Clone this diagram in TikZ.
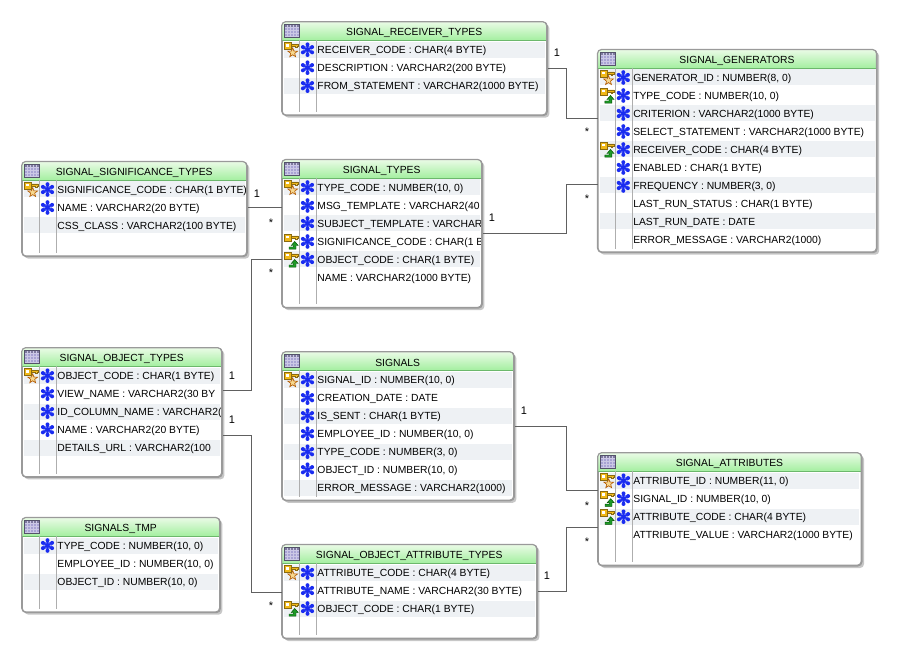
\documentclass[tikz,border=0pt]{standalone}
\usepackage{fontspec}
\setmainfont{Liberation Sans}
\usepackage{xcolor}
\usetikzlibrary{calc,shadows}
\definecolor{edge}{HTML}{9A9A9A}
\definecolor{wire}{HTML}{606060}
\definecolor{band}{HTML}{EEF1F4}
\definecolor{hdtop}{HTML}{EAFBE6}
\definecolor{hdbot}{HTML}{A4EFA0}
\definecolor{grid}{HTML}{A8A3D4}
\definecolor{gold}{HTML}{F0B818}
\definecolor{golddark}{HTML}{8A6A10}
\definecolor{starfill}{HTML}{F7D890}
\definecolor{fkgreen}{HTML}{1E9A28}
\definecolor{snow}{HTML}{1A2CF0}
\tikzset{
  tbl/.style={draw=edge, fill=white, line width=0.9pt, rounded corners=3pt, inner sep=0pt, anchor=north west,
    drop shadow={shadow xshift=1.6pt, shadow yshift=-1.6pt, fill=black, opacity=0.22}},
  conn/.style={draw=wire, line width=0.8pt},
  lbl/.style={text=black, font=\fontsize{8.25}{10}\selectfont, inner sep=0pt},
  rowtxt/.style={lbl, font=\fontsize{7.75}{10}\selectfont, anchor=base west},
  titletxt/.style={lbl, font=\fontsize{7.75}{10}\selectfont},
  colline/.style={draw=edge!80, line width=0.7pt},
  keyN/.pic={},
  keyP/.pic={
    \filldraw[fill=starfill, draw=orange!70!black, line width=0.45pt] (1.5,-1.5) -- (2.7,1.8) -- (6.3,2) -- (3.5,4.15) -- (4.4,7.5) -- (1.5,5.6) -- (-1.4,7.5) -- (-0.5,4.15) -- (-3.3,2) -- (0.3,1.8) -- cycle;
    \pic {keyhead};
  },
  keyF/.pic={
    \fill[fkgreen, draw=green!30!black, line width=0.35pt] (3.5,0.5) -- (7,4.5) -- (4.8,4.5) -- (4.8,8.2) -- (-2.2,8.2) -- (-2.2,6) -- (2.2,6) -- (2.2,4.5) -- (0,4.5) -- cycle;
    \pic {keyhead};
  },
  keyhead/.pic={
    \fill[gold, draw=golddark, line width=0.4pt] (-7,-7) rectangle (0,0);
    \fill[white] (-5,-5) rectangle (-2.5,-2.5);
    \fill[gold, draw=golddark, line width=0.3pt] (0,-5) -- (7,-5) -- (7,-3) -- (5.5,-3) -- (5.5,-1.5) -- (3.8,-1.5) -- (3.8,-3) -- (0,-3) -- cycle;
  },
  ast0/.pic={},
  ast1/.pic={
    \foreach \ang in {30,90,150}
      \draw[snow, line width=1.7pt] (\ang:5.5) -- (\ang+180:5.5);
    \foreach \ang in {30,90,...,330}
      \fill[snow] (\ang:5.3) circle (2);
    \fill[snow] (0,0) circle (4);
    \foreach \ang in {0,60,...,300}
      \fill[white!55!snow] (\ang:3) circle (0.8);
  },
  grid/.pic={
    \fill[grid] (0,0) rectangle (15,13.5);
    \fill[grid!75!black] (0,0) rectangle (15,3);
    \foreach \gx in {3,6,...,12}
      \draw[white!40!grid, line width=0.35pt] (\gx,0) -- (\gx,13.5);
    \foreach \gy in {3,6,...,12}
      \draw[white!40!grid, line width=0.35pt] (0,\gy) -- (15,\gy);
    \draw[black!50!grid, line width=0.5pt] (0,0) rectangle (15,13.5);
  }
}
% name, left, top, width, height, title, rows
\newcommand{\dbtable}[7]{
  \node[tbl, minimum width=#4*0.75pt, minimum height=#5*0.75pt] (#1) at (#2,#3) {};
  \begin{scope}[shift={(#2,#3)}]
    \begin{scope}
      \clip[rounded corners=3pt] (0,0) rectangle (#4,#5);
      \shade[top color=hdtop, bottom color=hdbot] (0,0) rectangle (#4,18.5);
      \foreach \kk/\ak/\txt [count=\i] in {#7} {
        \pgfmathsetmacro{\yy}{10+18*\i}
        \ifodd\i
          \fill[band] (2,\yy-8) rectangle (#4-2,\yy+8);
        \fi
        \pic at (9.5,\yy-0.5) {key\kk};
        \pic at (25.8,\yy) {ast\ak};
        \node[rowtxt] (#1-\i) at (35.5,\yy+4.1) {\txt};
      }
    \end{scope}
    \draw[edge!70!green, line width=0.7pt] (0,18.5) -- (#4,18.5);
    \draw[colline] (17.5,18.5) -- (17.5,#5-3);
    \draw[colline] (35,18.5) -- (35,#5-3);
    \pic at (2.5,2.5) {grid};
    \node[titletxt] (#1-title) at (#4/2,11) {#6};
    \draw[draw=edge, line width=0.9pt, rounded corners=3pt] (0,0) rectangle (#4,#5);
  \end{scope}
}

\begin{document}
\begin{tikzpicture}[x=0.75pt, y=-0.75pt]
  \useasboundingbox (0,0) rectangle (897,659);

  \dbtable{receiver}{281.7}{21.7}{265}{93.3}{SIGNAL\_RECEIVER\_TYPES}{
    P/1/RECEIVER\_CODE : CHAR(4 BYTE),
    N/1/DESCRIPTION : VARCHAR2(200 BYTE),
    N/1/FROM\_STATEMENT : VARCHAR2(1000 BYTE)}
  \dbtable{generators}{597.5}{49.5}{279}{202.5}{SIGNAL\_GENERATORS}{
    P/1/{GENERATOR\_ID : NUMBER(8, 0)},
    F/1/{TYPE\_CODE : NUMBER(10, 0)},
    N/1/CRITERION : VARCHAR2(1000 BYTE),
    N/1/SELECT\_STATEMENT : VARCHAR2(1000 BYTE),
    F/1/RECEIVER\_CODE : CHAR(4 BYTE),
    N/1/ENABLED : CHAR(1 BYTE),
    N/1/{FREQUENCY : NUMBER(3, 0)},
    N/0/LAST\_RUN\_STATUS : CHAR(1 BYTE),
    N/0/LAST\_RUN\_DATE : DATE,
    N/0/ERROR\_MESSAGE : VARCHAR2(1000)}
  \dbtable{significance}{21.7}{161.5}{225}{94.5}{SIGNAL\_SIGNIFICANCE\_TYPES}{
    P/1/SIGNIFICANCE\_CODE : CHAR(1 BYTE),
    N/1/NAME : VARCHAR2(20 BYTE),
    N/0/CSS\_CLASS : VARCHAR2(100 BYTE)}
  \dbtable{types}{281.7}{159.5}{200}{148}{SIGNAL\_TYPES}{
    P/1/{TYPE\_CODE : NUMBER(10, 0)},
    N/1/MSG\_TEMPLATE : VARCHAR2(40,
    N/1/SUBJECT\_TEMPLATE : VARCHAR,
    F/1/SIGNIFICANCE\_CODE : CHAR(1 B,
    F/1/OBJECT\_CODE : CHAR(1 BYTE),
    N/0/NAME : VARCHAR2(1000 BYTE)}
  \dbtable{objtypes}{21.7}{347.7}{200}{129}{SIGNAL\_OBJECT\_TYPES}{
    P/1/OBJECT\_CODE : CHAR(1 BYTE),
    N/1/VIEW\_NAME : VARCHAR2(30 BY,
    N/1/ID\_COLUMN\_NAME : VARCHAR2(,
    N/1/NAME : VARCHAR2(20 BYTE),
    N/0/DETAILS\_URL : VARCHAR2(100}
  \dbtable{signals}{281.7}{351.7}{232}{148.5}{SIGNALS}{
    P/1/{SIGNAL\_ID : NUMBER(10, 0)},
    N/1/CREATION\_DATE : DATE,
    N/1/IS\_SENT : CHAR(1 BYTE),
    N/1/{EMPLOYEE\_ID : NUMBER(10, 0)},
    N/1/{TYPE\_CODE : NUMBER(3, 0)},
    N/1/{OBJECT\_ID : NUMBER(10, 0)},
    N/0/ERROR\_MESSAGE : VARCHAR2(1000)}
  \dbtable{attributes}{597.7}{452.7}{263.6}{112.6}{SIGNAL\_ATTRIBUTES}{
    P/1/{ATTRIBUTE\_ID : NUMBER(11, 0)},
    F/1/{SIGNAL\_ID : NUMBER(10, 0)},
    F/1/ATTRIBUTE\_CODE : CHAR(4 BYTE),
    N/0/ATTRIBUTE\_VALUE : VARCHAR2(1000 BYTE)}
  \dbtable{tmp}{21.7}{517.5}{198}{94.5}{SIGNALS\_TMP}{
    N/1/{TYPE\_CODE : NUMBER(10, 0)},
    N/0/{EMPLOYEE\_ID : NUMBER(10, 0)},
    N/0/{OBJECT\_ID : NUMBER(10, 0)}}
  \dbtable{objattr}{281.7}{544.5}{255}{93.8}{SIGNAL\_OBJECT\_ATTRIBUTE\_TYPES}{
    P/1/ATTRIBUTE\_CODE : CHAR(4 BYTE),
    N/1/ATTRIBUTE\_NAME : VARCHAR2(30 BYTE),
    F/1/OBJECT\_CODE : CHAR(1 BYTE)}

  \draw[conn] (receiver.east |- 0,68.5) -| (566.5,118.5) -- (generators.west |- 0,118.5);
  \draw[conn] (types.east |- 0,233.5) -| (566.5,184.5) -- (generators.west |- 0,184.5);
  \draw[conn] (significance.east |- 0,207.5) -- (types.west |- 0,207.5);
  \draw[conn] (objtypes.east |- 0,390.5) -| (251.5,259.5) -- (types.west |- 0,259.5);
  \draw[conn] (objtypes.east |- 0,435.5) -| (251.5,592.5) -- (objattr.west |- 0,592.5);
  \draw[conn] (signals.east |- 0,426.5) -| (566.5,490.5) -- (attributes.west |- 0,490.5);
  \draw[conn] (objattr.east |- 0,591.5) -| (566.5,527.5) -- (attributes.west |- 0,527.5);

  \node[lbl] (c1) at (557,53) {1};
  \node[lbl] (m1) at (587,132) {*};
  \node[lbl] (c2) at (492,218) {1};
  \node[lbl] (m2) at (587,199) {*};
  \node[lbl] (c3) at (257,194) {1};
  \node[lbl] (m3) at (271,223) {*};
  \node[lbl] (c4) at (232,376) {1};
  \node[lbl] (m4) at (271,273) {*};
  \node[lbl] (c5) at (232,420) {1};
  \node[lbl] (m5) at (271,606) {*};
  \node[lbl] (c6) at (524,411) {1};
  \node[lbl] (m6) at (587,506) {*};
  \node[lbl] (c7) at (547,576) {1};
  \node[lbl] (m7) at (587,542) {*};
\end{tikzpicture}
\end{document}
